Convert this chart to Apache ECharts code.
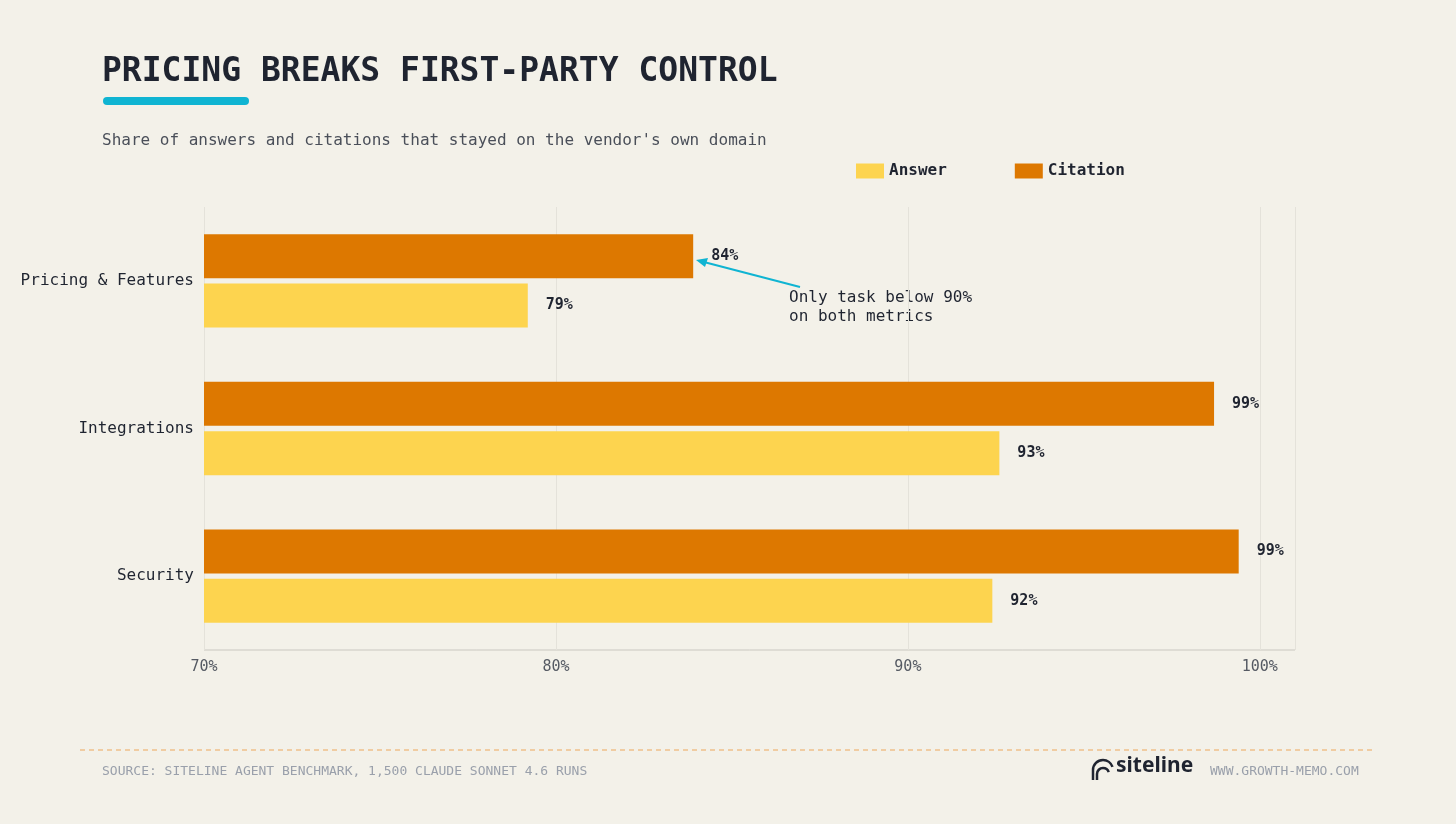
<!DOCTYPE html>
<html>
<head>
<meta charset="utf-8">
<script src="https://cdn.jsdelivr.net/npm/echarts@6/dist/echarts.min.js"></script>
<style>
  html, body { margin: 0; padding: 0; background: #f3f1e9; }
  #chart { width: 1456px; height: 824px; }
</style>
</head>
<body>
<div id="chart"></div>
<script>
const categories = ['Pricing & Features', 'Integrations', 'Security'];
const citation = [83.9, 98.7, 99.4];
const answer = [79.2, 92.6, 92.4];
const citationLabels = ['84%', '99%', '99%'];
const answerLabels = ['79%', '93%', '92%'];

const mono = '"DejaVu Sans Mono", monospace';
const chart = echarts.init(document.getElementById('chart'));

const barLabel = (labels) => ({
  show: true,
  position: 'right',
  distance: 18,
  fontFamily: mono,
  fontWeight: 'bold',
  fontSize: 15,
  color: '#1f2430',
  formatter: p => labels[p.dataIndex]
});

chart.setOption({
  backgroundColor: '#f3f1e9',
  animation: false,
  grid: { left: 204, right: 161, top: 207, bottom: 174 },
  legend: {
    data: ['Answer', 'Citation'],
    top: 158,
    left: 851,
    itemGap: 68,
    itemWidth: 28,
    itemHeight: 15,
    icon: 'rect',
    textStyle: { fontFamily: mono, fontWeight: 'bold', fontSize: 16, color: '#1f2430' }
  },
  xAxis: {
    type: 'value',
    min: 70,
    max: 101,
    interval: 10,
    axisLine: { show: false },
    axisTick: { show: false },
    splitLine: { lineStyle: { color: '#e4e2da' } },
    axisLabel: {
      showMaxLabel: false,
      margin: 10,
      fontFamily: mono, fontSize: 15, color: '#555a63',
      formatter: v => v + '%'
    }
  },
  yAxis: {
    type: 'category',
    data: categories,
    inverse: true,
    axisLine: { show: false },
    axisTick: { show: false },
    axisLabel: { margin: 10, fontFamily: mono, fontSize: 16, color: '#1f2430' }
  },
  series: [
    {
      name: 'Citation', type: 'bar', data: citation,
      barWidth: 44, barGap: '12%',
      itemStyle: { color: '#dd7800' },
      label: barLabel(citationLabels)
    },
    {
      name: 'Answer', type: 'bar', data: answer,
      barWidth: 44,
      itemStyle: { color: '#fdd44f' },
      label: barLabel(answerLabels)
    }
  ],
  graphic: [
    { type: 'text', left: 102, top: 56, style: { text: 'PRICING BREAKS FIRST-PARTY CONTROL', font: 'bold 33px ' + mono, fill: '#1f2430' } },
    { type: 'rect', shape: { x: 103, y: 97, width: 146, height: 8, r: 4 }, style: { fill: '#0fb4d2' } },
    { type: 'text', left: 102, top: 133, style: { text: "Share of answers and citations that stayed on the vendor's own domain", font: '16px ' + mono, fill: '#4a4f59' } },
    { type: 'line', shape: { x1: 204, y1: 650, x2: 1295, y2: 650 }, style: { stroke: '#c9c7c0', lineWidth: 1 } },
    { type: 'line', shape: { x1: 800, y1: 287, x2: 700, y2: 261 }, style: { stroke: '#0fb4d2', lineWidth: 2 } },
    { type: 'polygon', shape: { points: [[696, 260], [708, 258], [705, 267]] }, style: { fill: '#0fb4d2' } },
    { type: 'text', left: 789, top: 288, style: { text: 'Only task below 90%\non both metrics', font: '16px ' + mono, fill: '#1f2430', lineHeight: 19 } },
    { type: 'line', shape: { x1: 80, y1: 750, x2: 1376, y2: 750 }, style: { stroke: '#f0c08a', lineWidth: 1.5, lineDash: [5, 4] } },
    { type: 'text', left: 102, top: 765, style: { text: 'SOURCE: SITELINE AGENT BENCHMARK, 1,500 CLAUDE SONNET 4.6 RUNS', font: '13px ' + mono, fill: '#9aa0ab' } },
    { type: 'text', left: 1210, top: 765, style: { text: 'WWW.GROWTH-MEMO.COM', font: '13px ' + mono, fill: '#9aa0ab' } },
    { type: 'arc', shape: { cx: 1103, cy: 770, r: 10, startAngle: Math.PI, endAngle: Math.PI * 1.9 }, style: { stroke: '#1f2430', lineWidth: 2.5, fill: null } },
    { type: 'arc', shape: { cx: 1103, cy: 774, r: 6, startAngle: Math.PI, endAngle: Math.PI * 1.9 }, style: { stroke: '#1f2430', lineWidth: 2.5, fill: null } },
    { type: 'line', shape: { x1: 1093, y1: 770, x2: 1093, y2: 780 }, style: { stroke: '#1f2430', lineWidth: 2.5 } },
    { type: 'line', shape: { x1: 1097, y1: 774, x2: 1097, y2: 780 }, style: { stroke: '#1f2430', lineWidth: 2.5 } },
    { type: 'text', left: 1116, top: 756, style: { text: 'siteline', font: 'bold 21px "Noto Sans", sans-serif', fill: '#1f2430' } }
  ]
});
</script>
</body>
</html>
